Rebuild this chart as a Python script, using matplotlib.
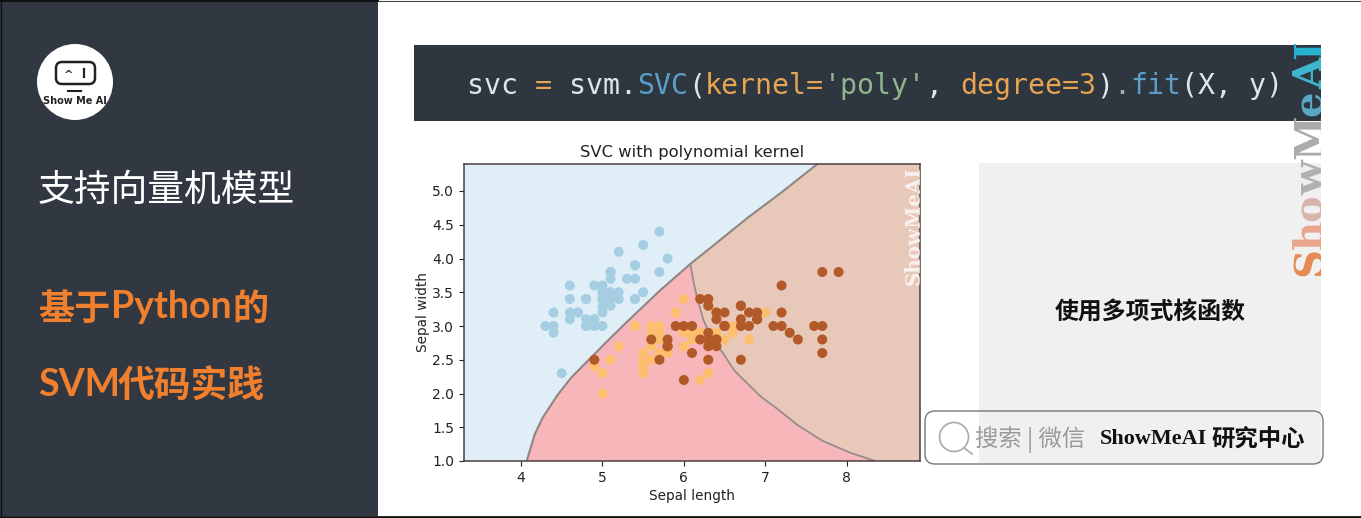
import matplotlib
matplotlib.use("Agg")
import matplotlib.pyplot as plt
from matplotlib.patches import Rectangle, FancyBboxPatch, Circle

W, H = 1361, 518
CJK = ['Noto Sans CJK SC', 'DejaVu Sans']

setosa_x = [5.1,4.9,4.7,4.6,5.0,5.4,4.6,5.0,4.4,4.9,5.4,4.8,4.8,4.3,5.8,5.7,5.4,5.1,5.7,5.1,5.4,5.1,4.6,5.1,4.8,5.0,5.0,5.2,5.2,4.7,4.8,5.4,5.2,5.5,4.9,5.0,5.5,4.9,4.4,5.1,5.0,4.5,4.4,5.0,5.1,4.8,5.1,4.6,5.3,5.0]
setosa_y = [3.5,3.0,3.2,3.1,3.6,3.9,3.4,3.4,2.9,3.1,3.7,3.4,3.0,3.0,4.0,4.4,3.9,3.5,3.8,3.8,3.4,3.7,3.6,3.3,3.4,3.0,3.4,3.5,3.4,3.2,3.1,3.4,4.1,4.2,3.1,3.2,3.5,3.6,3.0,3.4,3.5,2.3,3.2,3.5,3.8,3.0,3.8,3.2,3.7,3.3]
versi_x = [7.0,6.4,6.9,5.5,6.5,5.7,6.3,4.9,6.6,5.2,5.0,5.9,6.0,6.1,5.6,6.7,5.6,5.8,6.2,5.6,5.9,6.1,6.3,6.1,6.4,6.6,6.8,6.7,6.0,5.7,5.5,5.5,5.8,6.0,5.4,6.0,6.7,6.3,5.6,5.5,5.5,6.1,5.8,5.0,5.6,5.7,5.7,6.2,5.1,5.7]
versi_y = [3.2,3.2,3.1,2.3,2.8,2.8,3.3,2.4,2.9,2.7,2.0,3.0,2.2,2.9,2.9,3.1,3.0,2.7,2.2,2.5,3.2,2.8,2.5,2.8,2.9,3.0,2.8,3.0,2.9,2.6,2.4,2.4,2.7,2.7,3.0,3.4,3.1,2.3,3.0,2.5,2.6,3.0,2.6,2.3,2.7,3.0,2.9,2.9,2.5,2.8]
virgin_x = [6.3,5.8,7.1,6.3,6.5,7.6,4.9,7.3,6.7,7.2,6.5,6.4,6.8,5.7,5.8,6.4,6.5,7.7,7.7,6.0,6.9,5.6,7.7,6.3,6.7,7.2,6.2,6.1,6.4,7.2,7.4,7.9,6.4,6.3,6.1,7.7,6.3,6.4,6.0,6.9,6.7,6.9,5.8,6.8,6.7,6.7,6.3,6.5,6.2,5.9]
virgin_y = [3.3,2.7,3.0,2.9,3.0,3.0,2.5,2.9,2.5,3.6,3.2,2.7,3.0,2.5,2.8,3.2,3.0,3.8,2.6,2.2,3.2,2.8,2.8,2.7,3.3,3.2,2.8,3.0,2.8,3.0,2.8,3.8,2.8,2.8,2.6,3.0,3.4,3.1,3.0,3.1,3.1,3.1,2.7,3.2,3.3,3.0,2.5,3.0,3.4,3.0]

# decision boundaries
upper_x = [4.07,4.17,4.27,4.45,4.62,4.85,5.08,5.30,5.71,6.08,6.37,6.78,7.2,7.64]
upper_y = [1.0,1.4,1.65,1.98,2.24,2.52,2.8,3.06,3.53,3.92,4.2,4.6,4.98,5.4]
lower_x = [6.08,6.12,6.16,6.24,6.34,6.48,6.62,6.77,6.95,7.14,7.4,7.7,8.05,8.35]
lower_y = [3.92,3.65,3.43,3.09,2.82,2.6,2.34,2.16,1.95,1.78,1.53,1.3,1.12,1.0]
JUNCTION = 10  # number of upper-boundary vertices up to the junction
xticks = [4,5,6,7,8]
yticks = [1.0,1.5,2.0,2.5,3.0,3.5,4.0,4.5,5.0]
xlim = (3.3,8.9)
ylim = (1.0,5.4)

code_tokens = [("svc ","#dfe5ea"),("=","#e8a452"),(" svm.","#dfe5ea"),("SVC","#5b9fc8"),("(","#dfe5ea"),
               ("kernel=","#e8a452"),("'poly'","#93b58e"),(", ","#dfe5ea"),("degree=3","#e8a452"),(")","#dfe5ea"),
               (".","#9fb0bb"),("fit","#5b9fc8"),("(X, y)","#dfe5ea")]
mark_letters = ["S","h","o","w","M","e","A","I"]
mark_colors = ["#E58A55","#E9A68C","#D9B4AA","#B4B0B0","#ABABAB","#58A9C4","#3FB6D0","#25B4D2"]
mark_adv = [.685,.727,.667,.924,1.107,.678,.776,.471]

fig = plt.figure(figsize=(W/100,H/100),dpi=100,facecolor="white")

# ---- page layer in pixel units ----
bg = fig.add_axes([0,0,1,1],zorder=0)
bg.set_xlim(0,W); bg.set_ylim(H,0); bg.axis("off")
bg.add_patch(Rectangle((0,0),378,516,fc="#313842",ec="none"))
bg.add_patch(Rectangle((36,465),310,35,fc="#30373f",ec="none"))
bg.plot([0,W],[516.5,516.5],color="#111111",lw=2)
bg.plot([0,378],[0.5,0.5],color="#111111",lw=1.5)
bg.plot([378,W],[0.5,0.5],color="#444444",lw=.8)
bg.plot([0.5,0.5],[0,516],color="#111111",lw=1)

# logo
bg.add_patch(Circle((75,82),38,fc="white",ec="none"))
bg.add_patch(FancyBboxPatch((56,62),39,22,boxstyle="round,pad=0,rounding_size=6",fc="white",ec="#222222",lw=1.8))
bg.text(69,75,"^",ha="center",va="center",fontsize=8,fontweight="bold",color="#222222")
bg.plot([84,84],[69,77],color="#222222",lw=1.6)
bg.plot([68,81],[91,91],color="#222222",lw=1.5)
bg.text(75,100.5,"Show Me AI",ha="center",va="center",fontsize=7,fontweight="bold",color="#222222",family="DejaVu Sans")

# left titles
bg.text(38,190,"支持向量机模型",ha="left",va="center",fontsize=26.5,color="white",family=CJK,fontweight="medium")
ORANGE = "#F07F2E"
bg.text(38,309,"基于",ha="left",va="center",fontsize=26,color=ORANGE,family=CJK,fontweight="bold")
bg.text(111,307,"Python",ha="left",va="center",fontsize=27,color=ORANGE,family="Lato",fontweight="bold")
bg.text(232,309,"的",ha="left",va="center",fontsize=26,color=ORANGE,family=CJK,fontweight="bold")
bg.text(38,385,"SVM",ha="left",va="center",fontsize=27,color=ORANGE,family="Lato",fontweight="bold")
bg.text(118,387,"代码实践",ha="left",va="center",fontsize=26.5,color=ORANGE,family=CJK,fontweight="bold")

# code strip
bg.add_patch(Rectangle((414,45),907,76,fc="#2e3640",ec="none"))
pos = 0
for tok,col in code_tokens:
    bg.text(467+pos*17,83,tok,ha="left",va="center_baseline",fontsize=20.3,color=col,family="DejaVu Sans Mono")
    pos += len(tok)

# note panel
bg.add_patch(Rectangle((979,163),342,300,fc="#F0F0F0",ec="none"))
bg.text(1150,313,"使用多项式核函数",ha="center",va="center",fontsize=17.2,color="#111111",family=CJK,fontweight="bold")
bg.add_patch(FancyBboxPatch((925,411),398,53,boxstyle="round,pad=0,rounding_size=10",fc=(1,1,1,0),ec="#777777",lw=1))
bg.add_patch(Rectangle((926,412),53,51,fc="white",ec="none",zorder=0.5))
bg.add_patch(Circle((954,437),14.5,fc="none",ec="#aaaaaa",lw=1.2))
bg.plot([964,972],[448,454],color="#aaaaaa",lw=1.2)
bg.text(975,440,"搜索 | 微信",ha="left",va="center",fontsize=16.8,color="#9a9a9a",family=CJK,fontweight="light")
bg.text(1100,439,"ShowMeAI",ha="left",va="center",fontsize=15.9,color="#111111",family="Liberation Serif",fontweight="bold")
bg.text(1211,440,"研究中心",ha="left",va="center",fontsize=16.8,color="#111111",family=CJK,fontweight="bold")

# ---- chart ----
ax = fig.add_axes([464/W,1-461/H,456/W,297/H],zorder=2)
ax.set_xlim(*xlim); ax.set_ylim(*ylim)
BLUE_BG, PINK_BG, TAN_BG = "#E0EFF7","#F7B6B9","#E8C9B9"
ax.set_facecolor(BLUE_BG)
ax.fill(upper_x+[xlim[1],xlim[1]],upper_y+[ylim[1],ylim[0]],color=TAN_BG,lw=0)
ax.fill(upper_x[:JUNCTION]+lower_x[1:],upper_y[:JUNCTION]+lower_y[1:],color=PINK_BG,lw=0)
ax.plot(upper_x,upper_y,color="#8f8583",lw=1.5)
ax.plot(lower_x,lower_y,color="#9a8c8c",lw=1.3)
xs = setosa_x+versi_x+virgin_x
ys = setosa_y+versi_y+virgin_y
cs = ["#A6CEE3"]*len(setosa_x)+["#FDBF6F"]*len(versi_x)+["#B15928"]*len(virgin_x)
ax.scatter(xs,ys,c=cs,s=52,linewidths=0,zorder=3)
ax.set_xticks(xticks); ax.set_yticks(yticks)
ax.tick_params(labelsize=10,colors="#222222",length=3.5,width=.8)
ax.set_title("SVC with polynomial kernel",fontsize=11.8,color="#222222",pad=5)
ax.set_xlabel("Sepal length",fontsize=9.8,color="#222222",labelpad=3)
ax.set_ylabel("Sepal width",fontsize=9.8,color="#222222",labelpad=2)
for s in ax.spines.values():
    s.set_color("#4a3f3d"); s.set_linewidth(1.1)

# ---- watermarks on top ----
fg = fig.add_axes([0,0,1,1],zorder=3)
fg.set_xlim(0,W); fg.set_ylim(H,0); fg.axis("off"); fg.patch.set_alpha(0)
clip = Rectangle((1280,30),41.5,260,transform=fg.transData)
clip2 = Rectangle((900,164),20,125,transform=fg.transData)
y = 276.0
for ch,col,adv in zip(mark_letters,mark_colors,mark_adv):
    t = fg.text(1322,y,ch,rotation=90,rotation_mode="anchor",ha="left",va="baseline",
                fontsize=29,color=col,family="DejaVu Serif",fontweight="bold")
    t.set_clip_path(clip); t.set_clip_on(True)
    y -= adv*39.0
t = fg.text(920,285,"ShowMeAI",rotation=90,rotation_mode="anchor",ha="left",va="baseline",
            fontsize=14.3,color="white",alpha=.75,family="DejaVu Serif",fontweight="bold")
t.set_clip_path(clip2); t.set_clip_on(True)

fig.savefig("out.png",dpi=100)
